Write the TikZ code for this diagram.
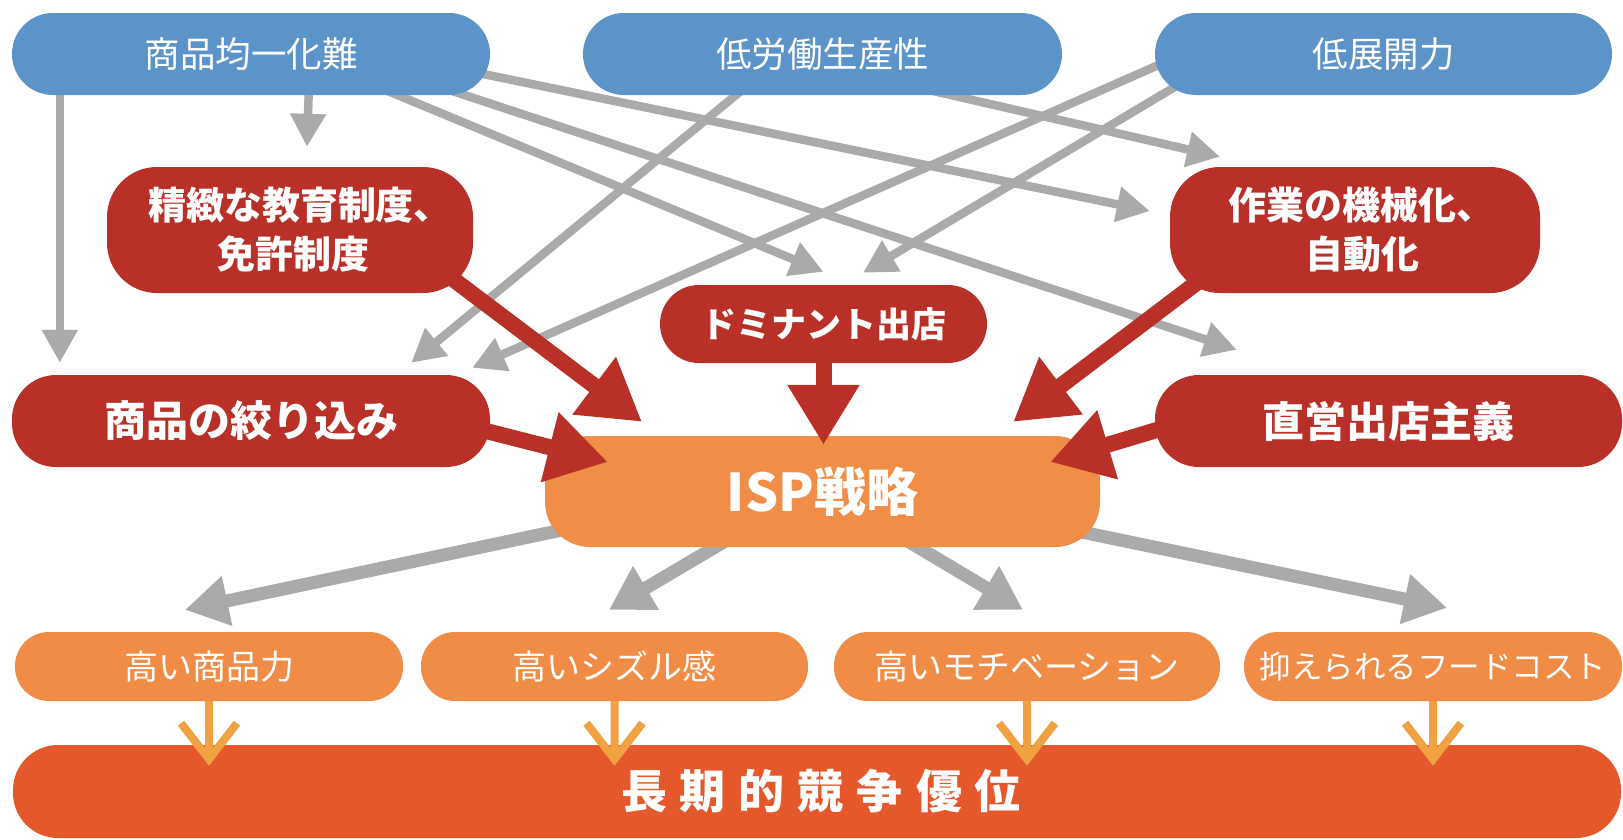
\documentclass[tikz,border=0pt]{standalone}
\usepackage{fontspec}
\setmainfont{Noto Sans CJK JP}
\usetikzlibrary{arrows.meta,calc}
\definecolor{cblue}{RGB}{92,147,200}
\definecolor{cred}{RGB}{184,48,40}
\definecolor{cisp}{RGB}{240,142,72}
\definecolor{crow}{RGB}{240,140,70}
\definecolor{cbot}{RGB}{229,88,43}
\definecolor{cgray}{RGB}{170,170,170}
\definecolor{cchev}{RGB}{240,162,66}
\pgfdeclarelayer{background}
\pgfsetlayers{background,main}
\newcommand{\jfs}[2]{\fontsize{#1}{#2}\selectfont}
\tikzset{
  basebox/.style={draw=none, inner sep=0pt, text=white, align=center},
  bluebox/.style={basebox, fill=cblue, rounded corners=41pt, minimum height=82pt, font=\jfs{35.5}{40}},
  redbig/.style={basebox, fill=cred, rounded corners=50pt, minimum height=126pt, font=\jfs{38}{49}\bfseries},
  redmid/.style={basebox, fill=cred, rounded corners=39pt, minimum height=78pt, font=\jfs{35}{40}\bfseries},
  redwide/.style={basebox, fill=cred, rounded corners=44pt, minimum height=92pt, font=\jfs{42}{46}\bfseries},
  ispbox/.style={basebox, fill=cisp, rounded corners=45pt, minimum height=111pt, font=\jfs{52}{56}\bfseries},
  rowbox/.style={basebox, fill=crow, rounded corners=34pt, minimum height=69pt, font=\jfs{34}{38}},
  botbox/.style={basebox, fill=cbot, rounded corners=45pt, minimum height=93pt, font=\jfs{46}{50}\bfseries},
  garrow/.style={draw=cgray, line width=8.5pt, -{Triangle[length=33pt,width=34pt]}},
  larrow/.style={draw=cgray, line width=13pt, -{Triangle[length=43pt,width=48pt]}},
  rarrow/.style={draw=cred, line width=16pt, -{Triangle[length=60pt,width=68pt]}},
  chev/.style={draw=cchev, line width=8pt, line join=miter}
}
\begin{document}
\begin{tikzpicture}[x=1pt,y=-1pt]
\useasboundingbox (0,0) rectangle (1623,839);

% top row
\node[bluebox, minimum width=478pt] (b1) at (251,54) {商品均一化難};
\node[bluebox, minimum width=479pt] (b2) at (822.5,54) {低労働生産性};
\node[bluebox, minimum width=457pt] (b3) at (1383.5,54) {低展開力};

% red boxes
\node[redbig, minimum width=366pt] (r1) at (290,230) {\hspace*{20pt}精緻な教育制度、\\\hspace*{7pt}免許制度};
\node[redbig, minimum width=370pt] (r2) at (1355,230) {\hspace*{12pt}作業の機械化、\\\hspace*{14pt}自動化};
\node[redmid, minimum width=327pt] (r3) at (823.5,324) {ドミナント出店};
\node[redwide, minimum width=478pt] (r4) at (251,421) {商品の絞り込み};
\node[redwide, minimum width=467pt] (r5) at (1388.5,421) {直営出店主義};

% ISP
\node[ispbox, minimum width=555pt] (isp) at (822.5,491.5) {ISP戦略};

% results row
\node[rowbox, minimum width=388pt] (o1) at (209,666.5) {高い商品力};
\node[rowbox, minimum width=387pt] (o2) at (614.5,666.5) {高いシズル感};
\node[rowbox, minimum width=386pt] (o3) at (1027,666.5) {高いモチベーション};
\node[rowbox, minimum width=378pt, font=\jfs{31.5}{36}] (o4) at (1433,666.5) {抑えられるフードコスト};

% bottom
\node[botbox, minimum width=1608pt] (bot) at (817,791.5) {\hspace*{8pt}長\hspace{13pt}期\hspace{13pt}的\hspace{13pt}競\hspace{13pt}争\hspace{13pt}優\hspace{13pt}位};

\begin{pgfonlayer}{background}
\fill[white] (0,0) rectangle (1623,839);
% gray arrows from top row
\draw[garrow] ([shift={(48,-5)}]b1.south west) -- ([shift={(48,-12)}]r4.north west);
\draw[garrow] ([shift={(297,-5)}]b1.south west) -- ([shift={(17,-20)}]r1.north);
\draw[garrow] ([shift={(374,-5)}]b1.south west) -- ([shift={(0,-13)}]r3.north);
\draw[garrow] ([shift={(438,-5)}]b1.south west) -- ([shift={(82,-25)}]r5.north west);
\draw[garrow] ([shift={(-12,19)}]b1.east) -- ([shift={(-20,-19)}]r2.west);
\draw[garrow] ([shift={(159,-5)}]b2.south west) -- ([shift={(-79,-12)}]r4.north east);
\draw[garrow] ([shift={(347,-5)}]b2.south west) -- ([shift={(-135,-10)}]r2.north);
\draw[garrow] ([shift={(15,6)}]b3.west) -- ([shift={(-18,-7)}]r4.north east);
\draw[garrow] ([shift={(30,27)}]b3.west) -- ([shift={(39.5,-12)}]r3.north);
% gray arrows from ISP
\draw[larrow] ([shift={(35,-21)}]isp.south west) -- ([shift={(-24,-22)}]o1.north);
\draw[larrow] ([shift={(-97.5,-6)}]isp.south) -- ([shift={(-5.5,-22)}]o2.north);
\draw[larrow] ([shift={(85.5,-6)}]isp.south) -- ([shift={(-4,-22)}]o3.north);
\draw[larrow] ([shift={(-37,-19)}]isp.south east) -- ([shift={(14,-24)}]o4.north);
\end{pgfonlayer}

% red arrows into ISP
\draw[rarrow] ([shift={(-28,-20)}]r1.south east) -- ([shift={(-180.5,-14)}]isp.north);
\draw[rarrow] ([shift={(0,-5)}]r3.south) -- ([shift={(1,9)}]isp.north);
\draw[rarrow] ([shift={(33,-15)}]r2.south west) -- ([shift={(-87,-14)}]isp.north east);
\draw[rarrow] ([shift={(-10,8.5)}]r4.east) -- ([shift={(63,-29.5)}]isp.west);
\draw[rarrow] ([shift={(12,6)}]r5.west) -- ([shift={(-50,-29.5)}]isp.east);

% chevrons to bottom
\foreach \o in {o1,o2,o3,o4}{
  \draw[chev] (\o.south) -- ++(0,58) ++(-28,-36) -- ++(28,36) -- ++(28,-36);
}
\end{tikzpicture}
\end{document}
